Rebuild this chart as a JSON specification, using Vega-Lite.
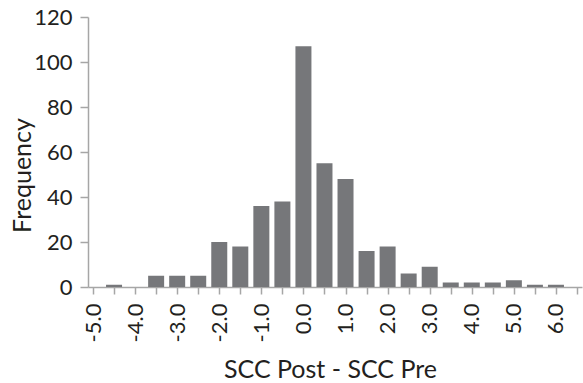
{
  "$schema": "https://vega.github.io/schema/vega-lite/v6.json",
  "width": 494,
  "height": 270,
  "autosize": {"type": "none"},
  "padding": {"left": 88, "top": 17, "right": 1, "bottom": 96},
  "background": "white",
  "config": {"view": {"stroke": null}, "font": "Lato"},
  "data": {
    "values": [
      {"bin": -5.0, "count": 0},
      {"bin": -4.5, "count": 1},
      {"bin": -4.0, "count": 0},
      {"bin": -3.5, "count": 5},
      {"bin": -3.0, "count": 5},
      {"bin": -2.5, "count": 5},
      {"bin": -2.0, "count": 20},
      {"bin": -1.5, "count": 18},
      {"bin": -1.0, "count": 36},
      {"bin": -0.5, "count": 38},
      {"bin": 0.0, "count": 107},
      {"bin": 0.5, "count": 55},
      {"bin": 1.0, "count": 48},
      {"bin": 1.5, "count": 16},
      {"bin": 2.0, "count": 18},
      {"bin": 2.5, "count": 6},
      {"bin": 3.0, "count": 9},
      {"bin": 3.5, "count": 2},
      {"bin": 4.0, "count": 2},
      {"bin": 4.5, "count": 2},
      {"bin": 5.0, "count": 3},
      {"bin": 5.5, "count": 1},
      {"bin": 6.0, "count": 1},
      {"bin": 6.5, "count": 0}
    ]
  },
  "mark": {"type": "bar", "width": 16, "color": "#76777a"},
  "encoding": {
    "x": {
      "field": "bin",
      "type": "quantitative",
      "scale": {"domain": [-5, 6.5], "nice": false, "zero": false},
      "axis": {
        "title": "SCC Post - SCC Pre",
        "titleFontSize": 25,
        "titleFontWeight": "normal",
        "titleColor": "#231f20",
        "titleX": 242,
        "titleY": 90,
        "titleAlign": "center",
        "titleBaseline": "alphabetic",
        "values": [-5, -4.5, -4, -3.5, -3, -2.5, -2, -1.5, -1, -0.5, 0, 0.5, 1, 1.5, 2, 2.5, 3, 3.5, 4, 4.5, 5, 5.5, 6, 6.5],
        "labelExpr": "abs(datum.value) % 1 == 0 ? (datum.value < 0 ? '-' : '') + format(abs(datum.value), '.1f') : ''",
        "labelAngle": -90,
        "labelFontSize": 22,
        "labelColor": "#231f20",
        "labelPadding": 9,
        "labelOverlap": false,
        "labelFlush": false,
        "grid": false,
        "domainColor": "#a6a6a6",
        "domainWidth": 1.5,
        "tickColor": "#a6a6a6",
        "tickWidth": 1.5,
        "tickSize": 7
      }
    },
    "y": {
      "field": "count",
      "type": "quantitative",
      "scale": {"domain": [0, 120], "nice": false},
      "axis": {
        "title": "Frequency",
        "titleFontSize": 25,
        "titleFontWeight": "normal",
        "titleColor": "#231f20",
        "titleAngle": -90,
        "titleX": -66,
        "titleY": 158,
        "titleAlign": "center",
        "titleBaseline": "middle",
        "values": [0, 20, 40, 60, 80, 100, 120],
        "labelFontSize": 22,
        "labelColor": "#231f20",
        "labelPadding": 8,
        "grid": false,
        "domainColor": "#a6a6a6",
        "domainWidth": 1.5,
        "tickColor": "#a6a6a6",
        "tickWidth": 1.5,
        "tickSize": 8
      }
    }
  }
}
